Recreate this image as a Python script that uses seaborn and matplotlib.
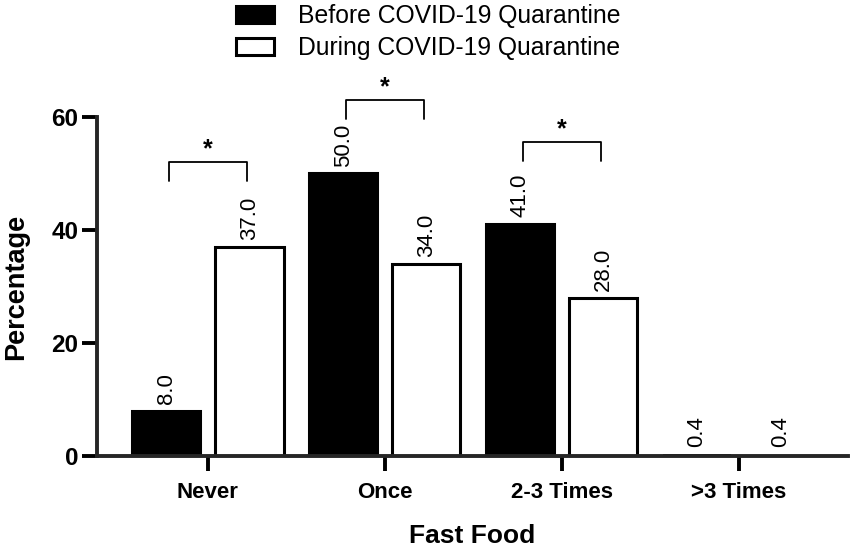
import pandas as pd
import numpy as np
import seaborn as sns
import matplotlib.pyplot as plt

categories = ['Never', 'Once', '2-3 Times', '>3 Times']
periods = ['Before COVID-19 Quarantine', 'During COVID-19 Quarantine']
before = [8.0, 50.0, 41.0, 0.4]
during = [37.0, 34.0, 28.0, 0.4]

# significance brackets: group index, bracket top (percentage)
sig_groups = [0, 1, 2]
sig_tops = [52.0, 63.0, 55.6]

df = pd.DataFrame({
    'Fast Food': categories * 2,
    'Percentage': before + during,
    'Period': [periods[0]] * 4 + [periods[1]] * 4,
})

sns.set_style('ticks')
plt.rcParams['font.family'] = ['Liberation Sans', 'DejaVu Sans']
plt.rcParams.update({'text.color': 'black', 'axes.labelcolor': 'black',
                     'xtick.color': 'black', 'ytick.color': 'black'})

fig = plt.figure(figsize=(8.51, 5.47), dpi=100)
ax = fig.add_axes([0.114, 0.1664, 0.882, 0.6197])

sns.barplot(data=df, x='Fast Food', y='Percentage', hue='Period',
            palette={periods[0]: 'black', periods[1]: 'white'},
            edgecolor='black', linewidth=2.2, width=0.94, gap=0.18,
            saturation=1, ax=ax)

for cont in ax.containers:
    ax.bar_label(cont, fmt='%.1f', rotation=90, padding=5, fontsize=16)
    for bar in cont:
        # tiny bars vanish under the thick axis line
        if bar.get_height() < 1:
            bar.set_linewidth(0)

for g, top in zip(sig_groups, sig_tops):
    x0, x1 = g - 0.22, g + 0.22
    ax.plot([x0, x0, x1, x1], [top - 3.4, top, top, top - 3.4],
            color='black', lw=1.3, clip_on=False)
    ax.annotate('*', xy=(g, top), xytext=(0, 4), textcoords='offset points',
                ha='center', va='baseline', fontsize=18, fontweight='bold',
                annotation_clip=False)

ax.set_ylim(0, 60)
ax.set_xlim(-0.627, 3.616)
ax.set_yticks([0, 20, 40, 60])
sns.despine(ax=ax)
for s in ['left', 'bottom']:
    ax.spines[s].set_linewidth(2.8)
    ax.spines[s].set_zorder(5)
ax.tick_params(axis='both', width=2.8, length=10.5, labelsize=16)
ax.tick_params(axis='x', pad=8)
ax.tick_params(axis='y', pad=3, labelsize=17.5)
for lab in ax.get_xticklabels() + ax.get_yticklabels():
    lab.set_fontweight('bold')

ax.set_xlabel('Fast Food', fontsize=19, fontweight='bold', labelpad=15)
ax.set_ylabel('Percentage', fontsize=19.5, fontweight='bold', labelpad=16)

handles, labels = ax.get_legend_handles_labels()
ax.get_legend().remove()
fig.legend(handles, labels, loc='upper left', bbox_to_anchor=(0.263, 1.015),
           frameon=False, fontsize=17.8, handlelength=1.55, handleheight=0.7,
           handletextpad=0.95, labelspacing=0.32, borderpad=0.0)

fig.savefig('out.png', dpi=100)
